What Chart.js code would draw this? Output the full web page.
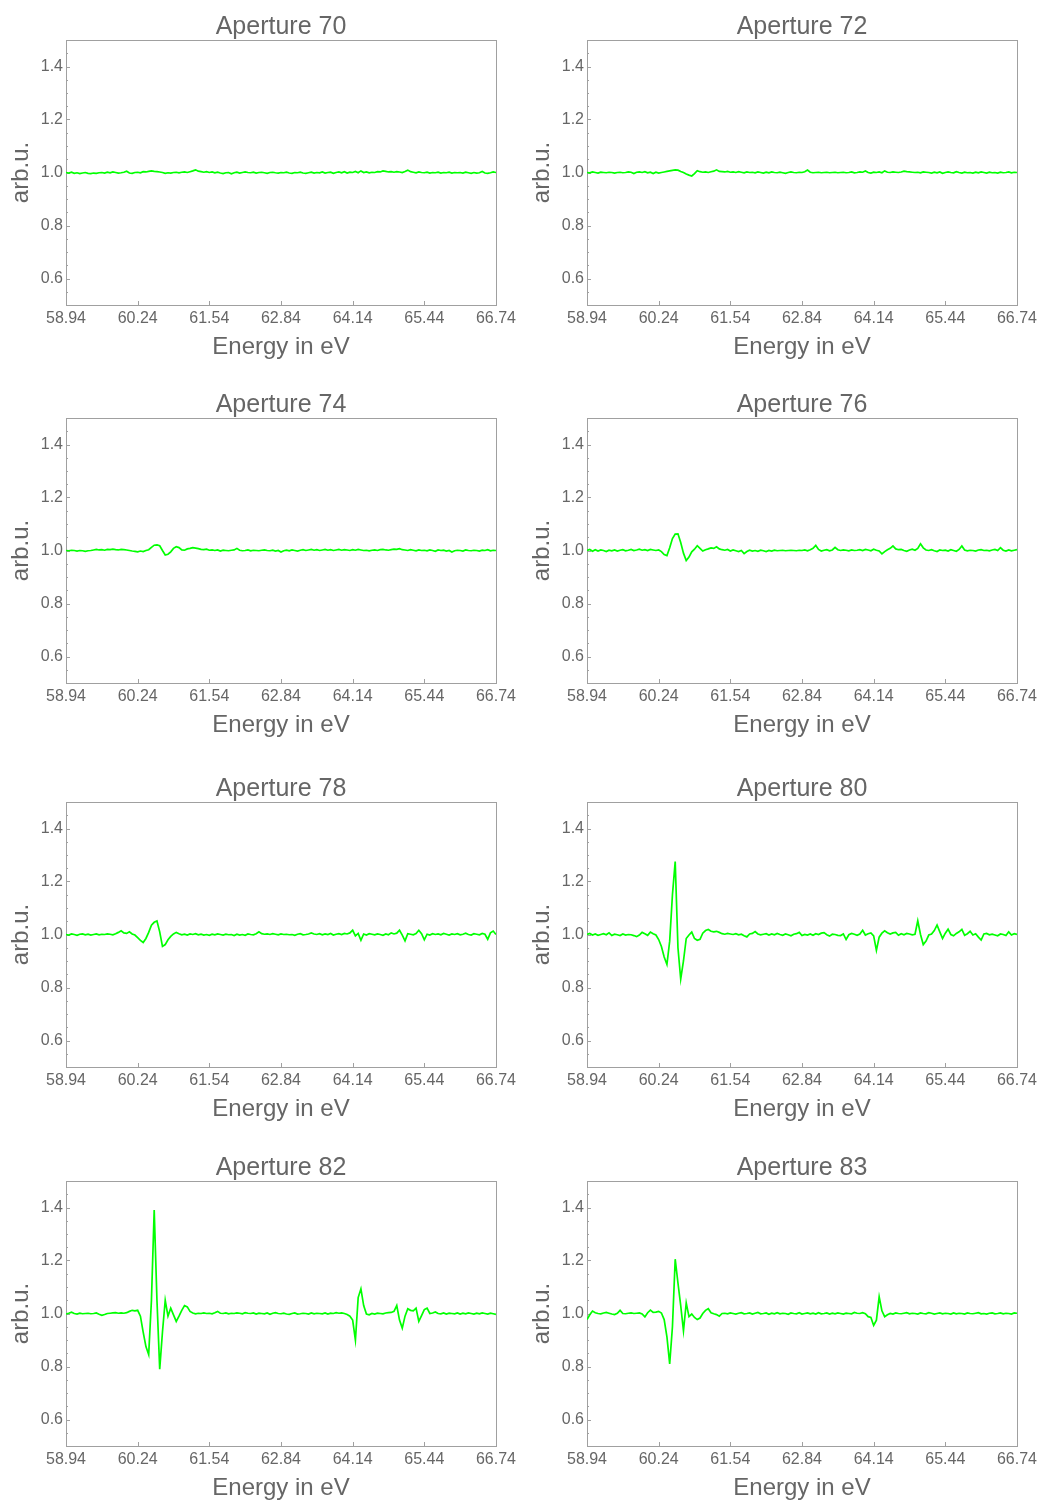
<!DOCTYPE html>
<html><head><meta charset="utf-8">
<script src="https://cdn.jsdelivr.net/npm/chart.js@4.4.1/dist/chart.umd.min.js"></script>
<style>
html,body{margin:0;padding:0;background:#fff;overflow:hidden;}
#wrap{position:relative;width:1041px;height:1502px;background:#fff;overflow:hidden;}
canvas{position:absolute;}
</style></head><body><div id="wrap"></div>
<script>
// Energy grid (eV)
const energy = [
58.94,58.99,59.04,59.09,59.14,59.19,59.24,59.29,59.34,59.39,
59.44,59.49,59.54,59.59,59.64,59.69,59.74,59.79,59.84,59.89,
59.94,59.99,60.04,60.09,60.14,60.19,60.24,60.29,60.34,60.39,
60.44,60.49,60.54,60.59,60.64,60.69,60.74,60.79,60.84,60.89,
60.94,60.99,61.04,61.09,61.14,61.19,61.24,61.29,61.34,61.39,
61.44,61.49,61.54,61.59,61.64,61.69,61.74,61.79,61.84,61.89,
61.94,61.99,62.04,62.09,62.14,62.19,62.24,62.29,62.34,62.39,
62.44,62.49,62.54,62.59,62.64,62.69,62.74,62.79,62.84,62.89,
62.94,62.99,63.04,63.09,63.14,63.19,63.24,63.29,63.34,63.39,
63.44,63.49,63.54,63.59,63.64,63.69,63.74,63.79,63.84,63.89,
63.94,63.99,64.04,64.09,64.14,64.19,64.24,64.29,64.34,64.39,
64.44,64.49,64.54,64.59,64.64,64.69,64.74,64.79,64.84,64.89,
64.94,64.99,65.04,65.09,65.14,65.19,65.24,65.29,65.34,65.39,
65.44,65.49,65.54,65.59,65.64,65.69,65.74,65.79,65.84,65.89,
65.94,65.99,66.04,66.09,66.14,66.19,66.24,66.29,66.34,66.39,
66.44,66.49,66.54,66.59,66.64,66.69,66.74];

const xTickValues = [58.94,60.24,61.54,62.84,64.14,65.44,66.74];
const yTickValues = [0.6,0.8,1.0,1.2,1.4];
const panelTitles = ['Aperture 70','Aperture 72','Aperture 74','Aperture 76','Aperture 78','Aperture 80','Aperture 82','Aperture 83'];

const a70 = [
1.000,0.998,1.001,0.997,0.999,0.996,0.998,1.000,0.997,0.996,
0.998,0.997,0.999,1.000,0.998,1.001,0.999,1.002,1.000,0.998,
0.999,1.001,1.005,0.998,0.997,1.000,1.001,0.999,1.003,1.002,
1.004,1.006,1.004,1.003,1.002,1.000,0.997,0.999,0.998,1.000,
1.001,0.999,1.001,1.002,1.000,1.003,1.006,1.010,1.005,1.003,
1.001,1.003,1.000,1.002,0.999,1.001,0.998,0.996,0.999,1.000,
0.995,0.999,1.001,0.998,1.000,1.002,1.000,0.999,1.001,0.998,
1.000,1.001,0.999,0.997,1.000,1.001,0.999,0.998,1.000,0.999,
1.001,0.998,0.997,1.000,0.999,1.001,0.998,0.997,0.999,1.001,
0.998,1.000,0.999,1.002,0.998,1.000,1.001,0.997,1.000,1.002,
0.999,1.003,0.998,1.001,1.000,1.004,0.999,1.006,1.000,1.002,
0.999,1.001,1.000,1.003,1.002,1.006,1.004,1.002,1.003,1.001,
1.003,1.002,1.000,1.004,1.009,1.003,1.001,0.999,1.002,1.000,
0.999,1.001,0.998,1.000,0.999,1.001,0.998,1.000,0.999,1.001,
0.998,1.000,0.999,1.000,0.998,1.001,0.999,0.997,1.000,0.998,
0.999,1.004,0.998,0.997,0.999,1.002,1.000];

const a72 = [
1.000,0.999,1.002,1.000,0.998,1.001,1.000,0.999,1.001,1.000,
0.998,1.000,1.001,0.999,1.000,1.002,1.001,0.996,1.001,1.002,
1.000,1.003,0.999,1.001,0.996,1.001,0.998,1.000,1.002,1.004,
1.006,1.008,1.010,1.009,1.004,1.000,0.994,0.990,0.987,0.996,
1.007,1.003,1.001,1.002,1.000,1.003,1.005,1.010,1.004,1.003,
1.002,1.004,1.001,1.002,1.000,1.003,1.001,0.999,1.002,1.000,
1.001,0.999,1.002,1.000,0.998,1.001,0.999,1.002,1.000,0.999,
1.001,0.999,0.997,1.000,1.002,1.000,0.999,1.001,1.000,1.003,
1.009,1.001,0.999,1.000,1.001,0.999,1.000,1.001,0.999,1.000,
1.001,0.999,1.000,1.001,0.999,1.000,1.002,0.999,1.000,1.002,
1.001,1.006,1.000,0.998,1.001,1.000,1.002,0.999,1.006,1.001,
1.000,1.002,1.001,1.000,1.002,1.005,1.003,1.002,1.001,1.000,
1.001,0.999,1.002,1.001,1.000,0.998,1.001,0.999,1.002,0.997,
1.000,1.002,1.000,0.999,1.003,1.000,0.998,1.001,0.999,1.000,
0.998,1.001,0.999,1.002,1.000,0.998,1.001,0.999,1.000,0.998,
1.001,0.999,1.000,1.002,0.999,1.001,1.000];

const a74 = [
1.000,0.999,1.001,1.000,0.998,1.000,0.999,0.997,0.999,1.000,
1.002,1.004,1.002,1.003,1.001,1.004,1.003,1.005,1.003,1.002,
1.004,1.003,1.002,1.000,0.998,0.997,0.995,0.998,0.996,1.000,
1.003,1.012,1.020,1.021,1.018,1.000,0.983,0.986,0.995,1.008,
1.014,1.011,1.002,1.001,1.006,1.008,1.011,1.009,1.007,1.004,
1.003,1.005,1.001,1.002,1.000,1.002,0.998,1.001,1.000,0.999,
1.001,1.002,1.008,1.001,0.999,1.000,1.002,0.999,1.001,1.000,
0.999,1.001,1.002,1.000,0.999,1.001,0.998,1.000,0.994,0.999,
1.001,0.999,1.002,1.000,0.998,1.001,1.003,1.000,1.002,1.004,
1.001,1.003,1.000,1.002,1.004,1.001,1.003,1.000,1.002,1.004,
1.001,1.003,1.002,1.000,1.003,1.001,1.004,1.002,1.000,1.001,
0.999,1.001,1.002,1.000,1.003,1.004,1.002,1.001,1.003,1.005,
1.004,1.007,1.003,1.002,1.000,1.003,1.001,0.999,1.002,1.000,
1.001,0.999,1.002,1.000,0.997,1.002,1.000,1.001,0.998,1.000,
0.994,0.999,1.001,1.000,0.998,1.002,1.000,0.999,1.001,1.000,
0.998,1.001,1.000,1.003,0.999,1.001,1.000];

const a76 = [
1.000,1.004,0.997,1.003,0.998,1.002,1.000,0.996,1.001,0.999,
1.002,0.998,1.001,1.003,0.999,1.001,1.004,1.000,1.002,1.005,
1.001,1.003,1.000,1.004,1.002,1.000,1.002,0.996,0.985,0.981,
1.010,1.045,1.062,1.063,1.030,0.990,0.962,0.975,0.995,1.005,
1.018,1.008,0.998,1.003,1.006,1.010,1.008,1.014,1.006,1.003,
1.001,1.004,0.998,1.002,0.999,0.996,1.000,0.988,0.996,1.001,
0.998,1.000,0.997,1.001,0.999,0.996,1.000,0.998,1.001,0.999,
1.000,1.001,0.999,1.000,1.001,1.000,0.999,1.001,1.000,1.002,
0.999,1.003,1.008,1.019,1.004,0.998,1.001,1.003,0.999,1.002,
1.012,1.003,1.000,1.002,1.001,0.999,1.002,1.000,1.001,1.003,
1.000,1.004,1.002,0.999,1.005,1.001,0.998,0.987,0.996,1.003,
1.008,1.017,1.006,1.003,1.004,1.000,0.997,1.002,1.005,1.001,
1.008,1.025,1.010,1.002,1.000,1.003,0.999,0.996,1.002,1.000,
1.001,0.998,1.003,1.000,0.997,1.004,1.017,1.002,0.999,1.001,
1.000,0.998,1.002,1.003,1.000,1.001,0.999,1.002,1.004,1.000,
1.011,1.001,0.998,1.002,0.999,1.001,1.003];

const a78 = [
1.000,0.998,1.002,1.000,0.997,1.001,1.002,0.999,1.001,0.998,
1.000,1.002,0.999,1.001,1.000,1.002,1.001,0.999,1.003,1.008,
1.014,1.006,1.004,1.010,1.002,0.998,0.988,0.978,0.970,0.985,
1.008,1.035,1.046,1.051,1.010,0.955,0.962,0.980,0.993,1.002,
1.008,1.003,0.999,1.001,0.998,1.002,1.000,1.003,0.999,1.001,
0.998,1.000,0.997,1.001,0.999,1.002,1.000,0.998,1.001,0.999,
1.000,0.996,1.001,0.998,1.000,0.997,1.002,1.000,0.999,1.003,
1.010,1.003,1.001,1.002,1.000,1.003,1.001,0.999,1.002,1.000,
1.001,0.999,1.000,0.997,1.001,1.003,0.999,1.000,1.002,1.006,
1.002,1.000,1.003,0.999,1.002,1.000,1.004,0.998,1.001,1.003,
1.000,1.004,1.002,1.006,1.016,0.995,1.004,0.978,1.002,0.998,
1.003,1.001,0.999,1.002,1.000,0.997,1.002,0.999,1.006,1.002,
1.005,1.016,0.998,0.976,1.003,1.001,0.999,1.004,1.016,1.003,
0.980,1.001,0.998,1.003,1.000,1.002,0.999,1.004,1.001,0.998,
1.002,1.000,1.003,0.999,1.001,1.005,1.000,0.998,1.003,1.001,
0.999,1.004,1.001,0.982,1.006,1.013,1.000];

const a80 = [
1.000,1.004,0.998,1.002,0.997,1.000,1.003,0.999,1.006,0.996,
1.001,0.999,0.996,1.002,0.998,1.000,0.999,0.996,0.992,0.998,
1.008,1.003,0.997,1.009,1.003,0.998,0.981,0.955,0.915,0.887,
0.975,1.150,1.275,0.950,0.832,0.900,0.985,0.998,1.009,0.985,
0.978,0.982,1.005,1.015,1.019,1.012,1.010,1.012,1.008,1.003,
1.001,1.004,1.002,1.000,1.003,0.999,1.001,0.995,0.991,1.002,
1.004,1.011,1.002,0.999,1.001,1.003,0.998,1.002,0.999,1.004,
1.000,0.997,1.002,0.999,0.995,1.001,1.003,1.008,0.996,1.000,
0.998,1.002,0.997,1.003,1.000,1.005,1.007,0.999,0.994,1.001,
1.000,0.997,0.996,1.002,0.981,0.999,1.004,1.001,0.997,1.002,
1.016,0.998,1.003,1.006,0.995,0.940,0.990,1.005,1.014,1.007,
1.002,1.006,1.008,0.997,1.003,0.999,1.004,1.002,0.999,1.001,
1.052,1.000,0.962,0.975,0.998,1.002,1.015,1.036,1.010,0.985,
1.005,1.020,1.000,0.995,1.004,1.010,1.019,0.997,1.003,1.012,
0.998,1.003,0.990,0.979,1.002,1.004,0.999,1.001,0.998,0.995,
1.002,1.000,0.996,1.010,0.998,1.003,1.000];

const a82 = [
0.998,1.001,1.005,1.000,0.998,1.001,0.999,1.000,1.001,0.999,
1.000,1.002,0.997,0.993,0.996,1.000,1.001,1.002,1.003,1.001,
1.002,1.001,1.003,1.008,1.012,1.010,1.012,0.990,0.930,0.875,
0.845,1.050,1.390,1.050,0.790,0.930,1.050,0.990,1.020,0.995,
0.970,0.990,1.012,1.030,1.025,1.008,1.002,0.999,1.001,1.000,
1.002,1.000,1.001,0.999,1.003,1.008,1.001,1.000,1.002,0.999,
1.001,1.000,1.002,1.001,0.999,1.003,1.001,1.000,1.002,0.998,
1.001,1.000,0.999,1.002,0.997,1.001,1.003,1.000,0.999,1.001,
0.998,0.997,1.000,1.002,0.998,0.999,1.001,1.000,0.998,1.002,
0.999,1.001,1.000,0.999,1.002,0.998,1.001,1.000,1.003,1.001,
1.002,1.000,0.996,0.990,0.975,0.900,1.060,1.093,1.030,0.998,
0.995,1.000,0.998,1.001,1.000,0.999,1.002,1.003,1.004,1.008,
1.030,0.975,0.945,0.990,1.018,1.012,1.010,1.020,0.970,0.992,
1.015,1.020,1.000,1.002,1.006,1.000,0.999,1.002,0.998,1.001,
1.000,0.999,1.002,0.998,1.001,0.999,1.002,1.000,0.998,1.001,
0.999,1.002,1.000,0.998,1.001,0.999,0.997];

const a83 = [
0.977,0.995,1.009,1.003,1.000,0.999,1.002,1.004,1.001,0.998,
0.996,1.001,1.012,1.000,0.999,1.001,1.002,1.000,1.001,1.002,
0.998,0.987,1.003,1.013,1.004,1.005,1.008,1.002,0.977,0.912,
0.810,0.950,1.205,1.115,1.030,0.935,1.040,0.988,0.998,0.985,
0.977,0.983,1.000,1.012,1.018,1.003,0.999,0.996,0.990,1.000,
1.001,0.999,1.002,1.000,0.998,1.001,1.003,0.999,1.000,1.002,
0.998,1.001,1.004,0.999,1.000,1.002,0.997,1.001,0.999,1.003,
0.999,1.001,1.000,0.997,1.002,1.000,0.999,1.003,0.998,1.000,
1.002,0.999,1.001,0.998,1.003,0.999,1.000,1.002,0.998,1.001,
0.999,1.002,1.000,0.998,1.001,1.000,0.999,1.004,1.001,1.000,
1.003,0.999,0.988,0.985,0.955,0.975,1.063,1.010,0.988,0.995,
1.000,0.998,1.002,1.000,0.999,1.001,1.003,0.999,1.001,1.000,
0.998,1.002,1.000,0.999,1.003,1.001,0.998,1.000,1.002,0.999,
1.001,1.000,0.998,1.002,0.999,1.001,1.000,0.998,1.002,1.000,
0.999,1.001,1.003,0.999,1.000,0.998,1.001,1.002,0.999,1.000,
1.002,0.999,1.001,1.000,0.998,1.002,1.001];

const seriesValues = [a70,a72,a74,a76,a78,a80,a82,a83];

// ---- presentation ----
const TEXT = '#666666', FRAME = '#a0a0a0', LINE = '#00ff00';
const FONT = "'Liberation Sans', Arial, sans-serif";
const plotTops = [40, 418, 802, 1181];
const colLefts = [0, 521];
const CW = 520, CH = 363;

const framePlugin = {
  id: 'frame',
  beforeDatasetsDraw(chart) {
    const {ctx, chartArea: a, scales: {x, y}} = chart;
    ctx.save();
    ctx.strokeStyle = FRAME;
    ctx.lineWidth = 1;
    ctx.beginPath();
    xTickValues.forEach(v => {
      const px = Math.round(x.getPixelForValue(v)) + 0.5;
      ctx.moveTo(px, a.bottom); ctx.lineTo(px, a.bottom - 4);
    });
    for (let k = 1; k < 20; k++) {
      const v = 0.5 + k * 0.05;
      const major = (k % 4 === 2);
      const py = Math.round(y.getPixelForValue(v)) + 0.5;
      ctx.moveTo(a.left, py); ctx.lineTo(a.left + (major ? 4 : 2), py);
    }
    ctx.stroke();
    ctx.strokeRect(Math.round(a.left) + 0.5, Math.round(a.top) + 0.5,
                   Math.round(a.right - a.left), Math.round(a.bottom - a.top));
    ctx.restore();
  }
};

const wrap = document.getElementById('wrap');
seriesValues.forEach((vals, idx) => {
  const row = Math.floor(idx / 2), col = idx % 2;
  const cv = document.createElement('canvas');
  cv.width = CW; cv.height = CH;
  cv.style.left = colLefts[col] + 'px';
  cv.style.top = (plotTops[row] - 41) + 'px';
  cv.style.width = CW + 'px'; cv.style.height = CH + 'px';
  wrap.appendChild(cv);
  new Chart(cv, {
    type: 'line',
    data: {
      datasets: [{
        data: energy.map((e, i) => ({x: e, y: vals[i]})),
        borderColor: LINE, borderWidth: 1.7, pointRadius: 0,
        tension: 0, fill: false
      }]
    },
    options: {
      responsive: false, animation: false, devicePixelRatio: 1,
      layout: {padding: {left: 0, right: 23, top: 0, bottom: 0}},
      plugins: {
        legend: {display: false}, tooltip: {enabled: false},
        title: {
          display: true, text: panelTitles[idx], color: TEXT, fullSize: false,
          font: {family: FONT, size: 25, weight: 'normal', lineHeight: 1.04},
          padding: {top: 15, bottom: 0}
        }
      },
      scales: {
        x: {
          type: 'linear', min: 58.94, max: 66.74,
          afterBuildTicks: s => { s.ticks = xTickValues.map(v => ({value: v})); },
          afterFit: s => { s.height = 57; },
          ticks: {callback: v => Number(v).toFixed(2), color: TEXT, autoSkip: false, maxRotation: 0,
                  padding: 4, font: {family: FONT, size: 16}},
          grid: {display: false, drawTicks: false},
          border: {display: false},
          title: {display: true, text: 'Energy in eV', color: TEXT, padding: {top: 0, bottom: 0},
                  font: {family: FONT, size: 24, lineHeight: 1.2}}
        },
        y: {
          type: 'linear', min: 0.5, max: 1.5,
          afterBuildTicks: s => { s.ticks = yTickValues.map(v => ({value: v})); },
          afterFit: s => { s.width = 66; },
          ticks: {callback: v => Number(v).toFixed(1), color: TEXT, padding: 3,
                  font: {family: FONT, size: 16}},
          grid: {display: false, drawTicks: false},
          border: {display: false},
          title: {display: true, text: 'arb.u.', color: TEXT, padding: {top: 7, bottom: 0},
                  font: {family: FONT, size: 24, lineHeight: 1.2}}
        }
      }
    },
    plugins: [framePlugin]
  });
});
</script>
</body></html>
